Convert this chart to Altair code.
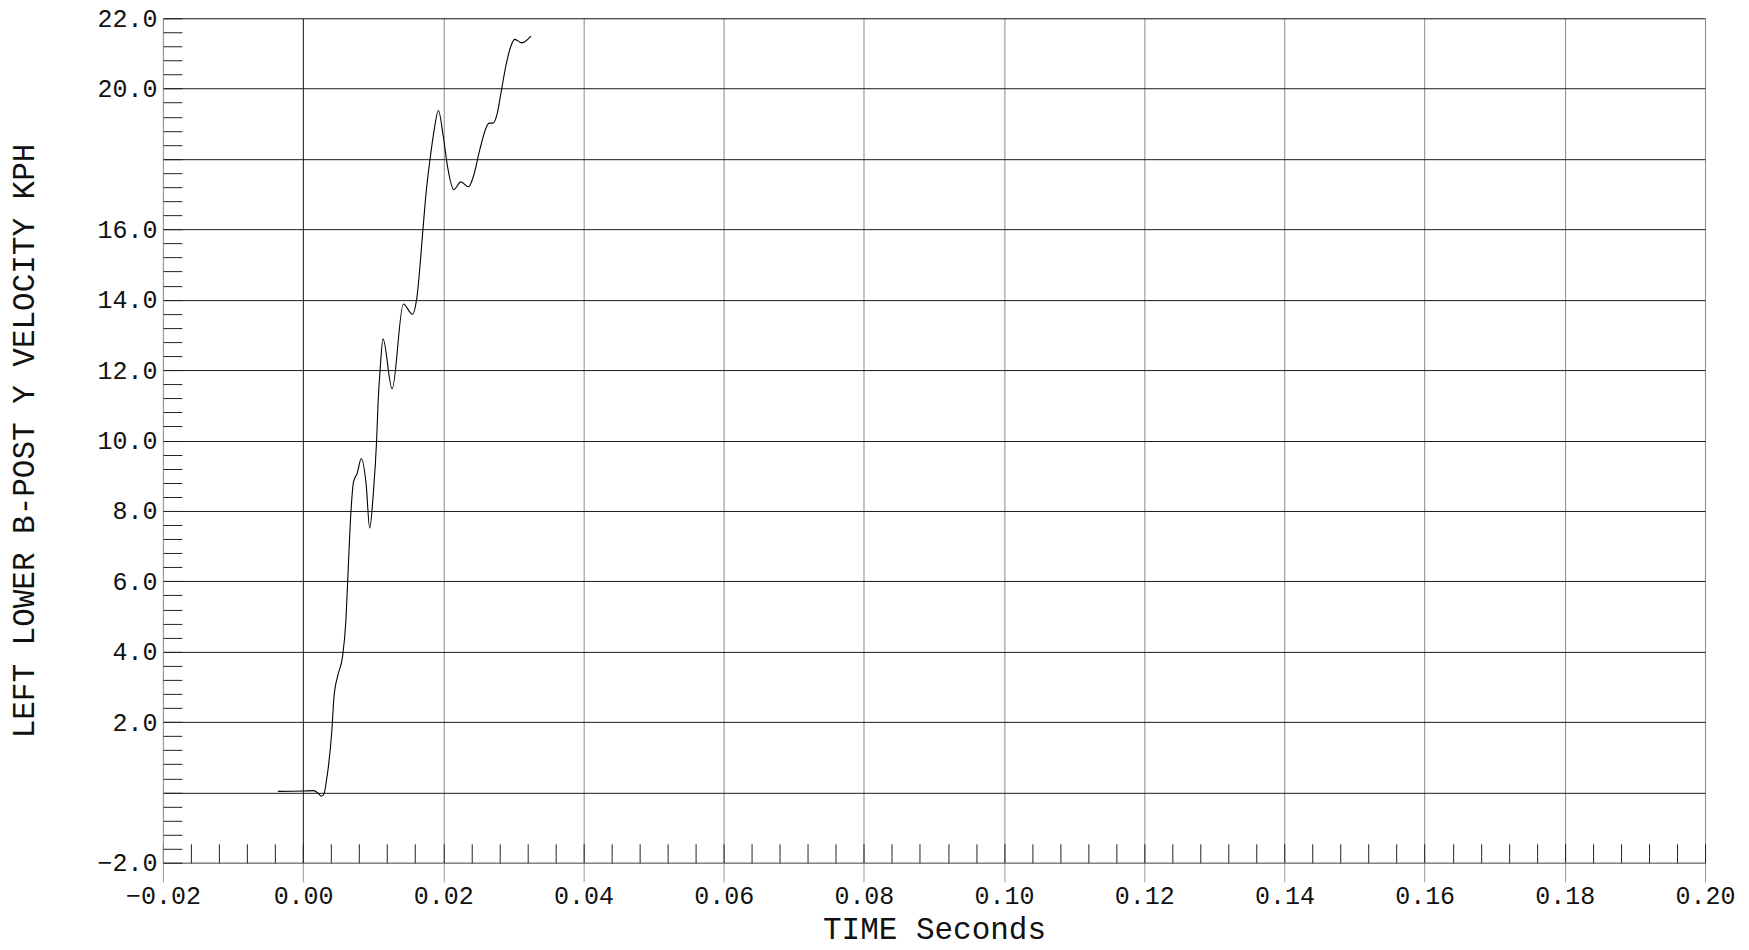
import altair as alt
import pandas as pd

# Curve (time in seconds, velocity in KPH)
time_s = [-0.0036, 0.0, 0.0015, 0.0022, 0.0026, 0.0030, 0.0033, 0.0036, 0.0041, 0.0044,
          0.0050, 0.0056, 0.0061, 0.0064, 0.0068, 0.0072, 0.0077, 0.0083, 0.0090, 0.0095,
          0.0100, 0.0105, 0.0107, 0.0110, 0.0114, 0.0127, 0.0143, 0.0156, 0.0162, 0.0171,
          0.0175, 0.0181, 0.0187, 0.0193, 0.0200, 0.0206, 0.0215, 0.0225, 0.0236, 0.0243,
          0.0252, 0.0262, 0.0265, 0.0271, 0.0277, 0.0283, 0.0290, 0.0297, 0.0302, 0.0312,
          0.0325]
velocity = [0.03, 0.04, 0.05, -0.03, -0.11, -0.03, 0.30, 0.72, 1.75, 2.70,
            3.36, 3.83, 4.87, 6.19, 7.89, 8.83, 9.06, 9.49, 8.74, 7.51,
            8.45, 10.06, 11.09, 12.04, 12.89, 11.47, 13.88, 13.59, 14.02, 16.0,
            16.95, 17.98, 18.83, 19.38, 18.64, 17.79, 17.13, 17.35, 17.21, 17.51,
            18.26, 18.93, 19.02, 19.02, 19.30, 19.96, 20.72, 21.24, 21.40, 21.30,
            21.49]

x_major = [-0.02, 0.0, 0.02, 0.04, 0.06, 0.08, 0.10, 0.12, 0.14, 0.16, 0.18, 0.20]
x_minor = [round(-0.02 + 0.004 * k, 4) for k in range(56)]
y_major = [-2, 0, 2, 4, 6, 8, 10, 12, 14, 16, 18, 20, 22]
y_minor = [round(-2 + 0.4 * k, 2) for k in range(61)]

df = pd.DataFrame({"t": time_s, "v": velocity})

FONT = "Liberation Mono"
xs = alt.Scale(domain=[-0.02, 0.20], nice=False, zero=False)
ys = alt.Scale(domain=[-2, 22], nice=False, zero=False)

main = alt.Chart(df).mark_line(color="black", strokeWidth=1.1, interpolate="monotone").encode(
    x=alt.X("t:Q", scale=xs, axis=alt.Axis(
        orient="bottom", values=x_major, format=".2f", title="TIME Seconds",
        grid=True, gridColor=alt.condition("datum.value == 0", alt.value("#111"), alt.value("#8a8a8a")),
        gridWidth=1, tickSize=19, tickColor="#999", domainColor="#999",
        labelFont=FONT, labelFontSize=25, labelColor="#111", labelPadding=2,
        titleFont=FONT, titleFontSize=31, titleFontWeight="normal", titleColor="#111",
        titlePadding=6, labelFlush=False)),
    y=alt.Y("v:Q", scale=ys, axis=alt.Axis(
        orient="left", values=y_major, title="LEFT LOWER B-POST Y VELOCITY KPH",
        labelExpr="(datum.value == 0 || datum.value == 18) ? '' : format(datum.value, '.1f')",
        grid=True, gridColor="#1a1a1a", gridWidth=1, ticks=False, domainColor="#999",
        labelFont=FONT, labelFontSize=25, labelColor="#111", labelPadding=6,
        titleFont=FONT, titleFontSize=31, titleFontWeight="normal", titleColor="#111",
        titlePadding=56, labelFlush=False)),
)

minor = alt.Chart(df).mark_line(opacity=0).encode(
    x=alt.X("t:Q", scale=xs, axis=alt.Axis(
        orient="bottom", values=x_minor, offset=-19, tickSize=19, tickColor="#222",
        domain=False, labels=False, grid=False, title=None)),
    y=alt.Y("v:Q", scale=ys, axis=alt.Axis(
        orient="left", values=y_minor, offset=-19, tickSize=19, tickColor="#222",
        domain=False, labels=False, grid=False, title=None)),
)

chart = alt.layer(main, minor).resolve_axis(x="independent", y="independent").properties(
    width=1543, height=845,
    autosize=alt.AutoSizeParams(type="none"),
    padding={"left": 155, "top": 10, "right": 36, "bottom": 95},
).configure_view(stroke="#999", strokeWidth=1).configure(background="white")

chart.save("out.html", embed_options={"renderer": "svg", "actions": False})
